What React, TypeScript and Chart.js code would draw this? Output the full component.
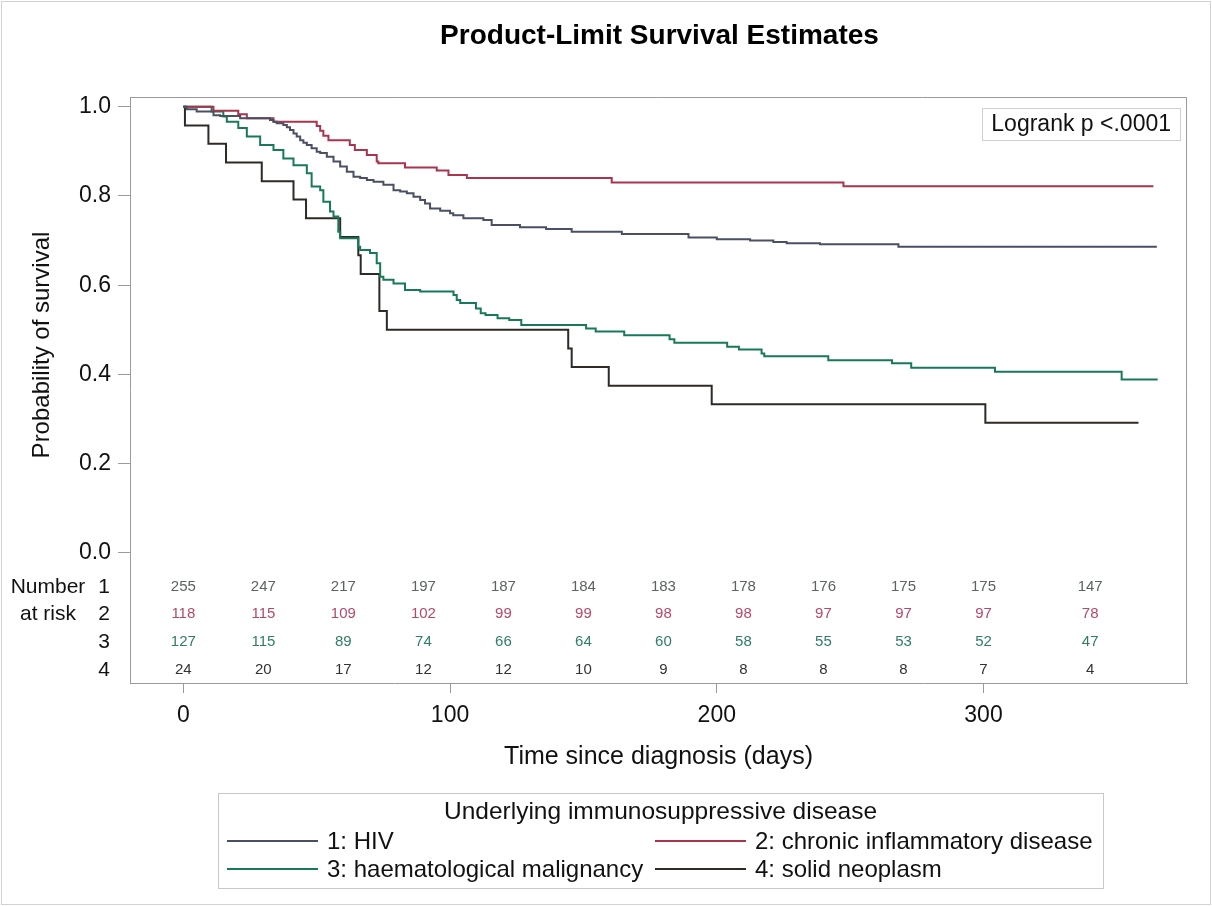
import React, { useEffect, useRef } from "react";
import { Chart, registerables } from "chart.js";

Chart.register(...registerables);

const FONT = '"Liberation Sans", Arial, Helvetica, sans-serif';

const chartTitle = "Product-Limit Survival Estimates";
const xTitle = "Time since diagnosis (days)";
const yTitle = "Probability of survival";
const logrankText = "Logrank p <.0001";
const legendTitle = "Underlying immunosuppressive disease";

const seriesLabels = [
  "1: HIV",
  "2: chronic inflammatory disease",
  "3: haematological malignancy",
  "4: solid neoplasm",
];
const seriesColors = ["#4b4f63", "#a8344e", "#17795a", "#2e2a26"];
const riskColors = ["#5b6363", "#b54a68", "#2f7d62", "#333333"];

// Kaplan-Meier step data (time in days, survival probability)
const hivTime = [0, 1.3, 5, 11.3, 13.8, 21.3, 32.5, 33.8, 35, 37.5, 38.8, 40, 41.3, 42.5, 43.8, 45, 46.3, 48.1, 50, 51.3, 53.8, 56.3, 58.8, 61.3, 63.8, 66.3, 68.8, 71.3, 75, 78.8, 81.3, 83.8, 86.3, 88.8, 90.6, 92.5, 96.3, 100, 101.2, 105, 112.5, 115.6, 126.2, 136, 145.6, 164.4, 189.4, 200, 212.5, 221.2, 226.2, 238.7, 268.1, 365];
const hivSurv = [1, 0.994, 0.989, 0.981, 0.979, 0.974, 0.970, 0.966, 0.963, 0.959, 0.954, 0.948, 0.940, 0.933, 0.925, 0.919, 0.914, 0.907, 0.899, 0.896, 0.888, 0.877, 0.866, 0.854, 0.843, 0.840, 0.836, 0.832, 0.825, 0.813, 0.810, 0.806, 0.798, 0.791, 0.783, 0.772, 0.767, 0.761, 0.757, 0.750, 0.746, 0.735, 0.730, 0.726, 0.720, 0.715, 0.707, 0.703, 0.700, 0.697, 0.694, 0.692, 0.686, 0.686];

const chrTime = [0, 11.3, 20.6, 23.8, 33.8, 50, 51.3, 52.5, 54.4, 62.4, 64.3, 68.8, 72.5, 73.1, 83.1, 95, 99.4, 106.3, 160.6, 247.5, 363.7];
const chrSurv = [1, 0.991, 0.983, 0.974, 0.966, 0.957, 0.946, 0.935, 0.925, 0.914, 0.903, 0.892, 0.877, 0.873, 0.864, 0.857, 0.847, 0.840, 0.830, 0.822, 0.822];

const haemTime = [0, 10.6, 15, 16.3, 20.6, 23.8, 28.8, 33.8, 37.5, 41.3, 46.3, 48.1, 51.3, 52.5, 55, 56.3, 58.1, 58.8, 65.6, 66.3, 70, 72.5, 73.8, 75, 78.8, 83.1, 88.8, 101.3, 102.5, 103.8, 109.7, 111.5, 113.3, 117.8, 122.2, 126.7, 151, 154.6, 165.3, 182.3, 184.1, 203.9, 208.3, 216.8, 217.8, 241.8, 265.7, 272.9, 304.3, 351.8, 365.3];
const haemSurv = [1, 0.989, 0.978, 0.966, 0.952, 0.933, 0.914, 0.903, 0.884, 0.869, 0.851, 0.821, 0.813, 0.787, 0.765, 0.754, 0.720, 0.705, 0.686, 0.679, 0.672, 0.649, 0.619, 0.612, 0.604, 0.589, 0.586, 0.578, 0.567, 0.560, 0.548, 0.537, 0.533, 0.526, 0.522, 0.511, 0.503, 0.496, 0.488, 0.479, 0.471, 0.462, 0.456, 0.447, 0.441, 0.432, 0.425, 0.415, 0.406, 0.389, 0.389];

const solTime = [0, 0.6, 9.4, 16, 29.4, 41.3, 46, 58.8, 65.6, 66.5, 73.5, 76.3, 144.3, 145.6, 159.5, 198.1, 300.7, 358.1];
const solSurv = [1, 0.958, 0.917, 0.875, 0.833, 0.792, 0.75, 0.708, 0.667, 0.625, 0.542, 0.5, 0.458, 0.417, 0.375, 0.333, 0.292, 0.292];

// Number at risk table
const atRiskTimes = [0, 30, 60, 90, 120, 150, 180, 210, 240, 270, 300, 340];
const atRiskHIV = [255, 247, 217, 197, 187, 184, 183, 178, 176, 175, 175, 147];
const atRiskChronic = [118, 115, 109, 102, 99, 99, 98, 98, 97, 97, 97, 78];
const atRiskHaem = [127, 115, 89, 74, 66, 64, 60, 58, 55, 53, 52, 47];
const atRiskSolid = [24, 20, 17, 12, 12, 10, 9, 8, 8, 8, 7, 4];
const atRiskRowY = [-0.076, -0.137, -0.199, -0.262];
const atRiskRowNames = ["1", "2", "3", "4"];

const xTicks = [0, 100, 200, 300];
const yTicks = [0, 0.2, 0.4, 0.6, 0.8, 1.0];

const toPts = (t: number[], s: number[]) => t.map((v, i) => ({ x: v, y: s[i] }));

const decorPlugin = {
  id: "decor",
  beforeDraw(chart: any) {
    const { ctx, width, height } = chart;
    ctx.save();
    ctx.fillStyle = "#ffffff";
    ctx.fillRect(0, 0, width, height);
    ctx.strokeStyle = "#d2d2d2";
    ctx.lineWidth = 1;
    ctx.strokeRect(1.5, 1.5, width - 3, height - 3);
    ctx.restore();
  },
  afterDraw(chart: any) {
    const { ctx, chartArea: ca } = chart;
    const xs = chart.scales.x;
    const ys = chart.scales.y;
    const cx = (ca.left + ca.right) / 2;
    ctx.save();

    // frame (top and right)
    ctx.strokeStyle = "#9a9a9a";
    ctx.lineWidth = 1;
    ctx.beginPath();
    ctx.moveTo(ca.left, ca.top + 0.5);
    ctx.lineTo(ca.right - 0.5, ca.top + 0.5);
    ctx.lineTo(ca.right - 0.5, ca.bottom);
    ctx.stroke();

    // title
    ctx.fillStyle = "#000";
    ctx.textAlign = "center";
    ctx.textBaseline = "middle";
    ctx.font = `bold 28px ${FONT}`;
    ctx.fillText(chartTitle, cx + 1, 36);

    // axis titles
    ctx.fillStyle = "#111";
    ctx.font = `25px ${FONT}`;
    ctx.fillText(xTitle, cx, 757);
    ctx.font = `24px ${FONT}`;
    ctx.save();
    ctx.translate(42, 345);
    ctx.rotate(-Math.PI / 2);
    ctx.fillText(yTitle, 0, 0);
    ctx.restore();

    // logrank box
    ctx.font = `23px ${FONT}`;
    const lw = ctx.measureText(logrankText).width;
    const bRight = ca.right - 7;
    const bLeft = bRight - lw - 18;
    const bTop = ca.top + 11;
    ctx.fillStyle = "#fff";
    ctx.fillRect(bLeft, bTop, bRight - bLeft, 32);
    ctx.strokeStyle = "#cfcfcf";
    ctx.strokeRect(Math.round(bLeft) + 0.5, bTop + 0.5, Math.round(bRight - bLeft), 32);
    ctx.fillStyle = "#111";
    ctx.textAlign = "right";
    ctx.fillText(logrankText, bRight - 9, bTop + 17);

    // number at risk
    const rows = [atRiskHIV, atRiskChronic, atRiskHaem, atRiskSolid];
    ctx.textAlign = "center";
    ctx.font = `15px ${FONT}`;
    rows.forEach((row, r) => {
      const py = ys.getPixelForValue(atRiskRowY[r]);
      ctx.fillStyle = riskColors[r];
      row.forEach((n, i) => {
        ctx.fillText(String(n), xs.getPixelForValue(atRiskTimes[i]), py);
      });
    });
    ctx.fillStyle = "#111";
    ctx.font = `21px ${FONT}`;
    ctx.fillText("Number", 48, ys.getPixelForValue(atRiskRowY[0]));
    ctx.fillText("at risk", 48, ys.getPixelForValue(atRiskRowY[1]));
    atRiskRowNames.forEach((nm, r) => {
      ctx.fillText(nm, 104, ys.getPixelForValue(atRiskRowY[r]));
    });

    // legend
    const lgL = 218, lgR = 1103, lgT = 793, lgB = 888;
    ctx.strokeStyle = "#c8c8c8";
    ctx.strokeRect(lgL + 0.5, lgT + 0.5, lgR - lgL, lgB - lgT);
    ctx.fillStyle = "#111";
    ctx.font = `24.5px ${FONT}`;
    ctx.textAlign = "center";
    ctx.fillText(legendTitle, (lgL + lgR) / 2, 812);
    ctx.font = `24px ${FONT}`;
    const colLine = [lgL + 9, 655];
    const rowY = [841, 869];
    ctx.textAlign = "left";
    chart.data.datasets.forEach((ds: any, i: number) => {
      const c = i % 2;
      const r = Math.floor(i / 2);
      const lx = colLine[c];
      ctx.strokeStyle = ds.borderColor;
      ctx.lineWidth = 2;
      ctx.beginPath();
      ctx.moveTo(lx, rowY[r]);
      ctx.lineTo(lx + 91, rowY[r]);
      ctx.stroke();
      ctx.fillStyle = "#111";
      ctx.fillText(ds.label, lx + 100, rowY[r] + 1);
    });

    ctx.restore();
  },
};

export default function App() {
  const ref = useRef<HTMLCanvasElement>(null);

  useEffect(() => {
    if (!ref.current) return;
    const series = [
      toPts(hivTime, hivSurv),
      toPts(chrTime, chrSurv),
      toPts(haemTime, haemSurv),
      toPts(solTime, solSurv),
    ];
    const chart = new Chart(ref.current, {
      type: "line",
      data: {
        datasets: series.map((pts, i) => ({
          label: seriesLabels[i],
          data: pts,
          borderColor: seriesColors[i],
          backgroundColor: seriesColors[i],
          borderWidth: 2,
          pointRadius: 0,
          stepped: "before" as const,
          fill: false,
        })),
      },
      options: {
        responsive: false,
        animation: false,
        events: [],
        layout: { padding: { top: 97, right: 25, bottom: 0, left: 0 } },
        plugins: {
          legend: { display: false },
          title: { display: false },
          tooltip: { enabled: false },
        },
        scales: {
          x: {
            type: "linear",
            min: -20,
            max: 376.3,
            afterBuildTicks: (s: any) => {
              s.ticks = xTicks.map((v) => ({ value: v }));
            },
            afterFit: (s: any) => {
              s.height = 906 - 683;
            },
            grid: { drawOnChartArea: false, drawTicks: true, tickLength: 10, color: "#9a9a9a" },
            border: { display: true, color: "#9a9a9a" },
            ticks: {
              maxRotation: 0,
              autoSkip: false,
              padding: 9,
              color: "#111",
              font: { family: FONT, size: 23 },
              callback: (v: any) => String(v),
            },
          },
          y: {
            type: "linear",
            min: -0.2913,
            max: 1.0217,
            afterBuildTicks: (s: any) => {
              s.ticks = yTicks.map((v) => ({ value: v }));
            },
            afterFit: (s: any) => {
              s.width = 130;
            },
            grid: { drawOnChartArea: false, drawTicks: true, tickLength: 12, color: "#9a9a9a" },
            border: { display: true, color: "#9a9a9a" },
            ticks: {
              autoSkip: false,
              padding: 7,
              color: "#111",
              font: { family: FONT, size: 23 },
              callback: (v: any) => Number(v).toFixed(1),
            },
          },
        },
      },
      plugins: [decorPlugin],
    } as any);
    return () => chart.destroy();
  }, []);

  return (
    <div style={{ position: "absolute", left: 0, top: 0, width: 1212, height: 906, background: "#fff" }}>
      <canvas ref={ref} width={1212} height={906} style={{ display: "block" }} />
    </div>
  );
}
